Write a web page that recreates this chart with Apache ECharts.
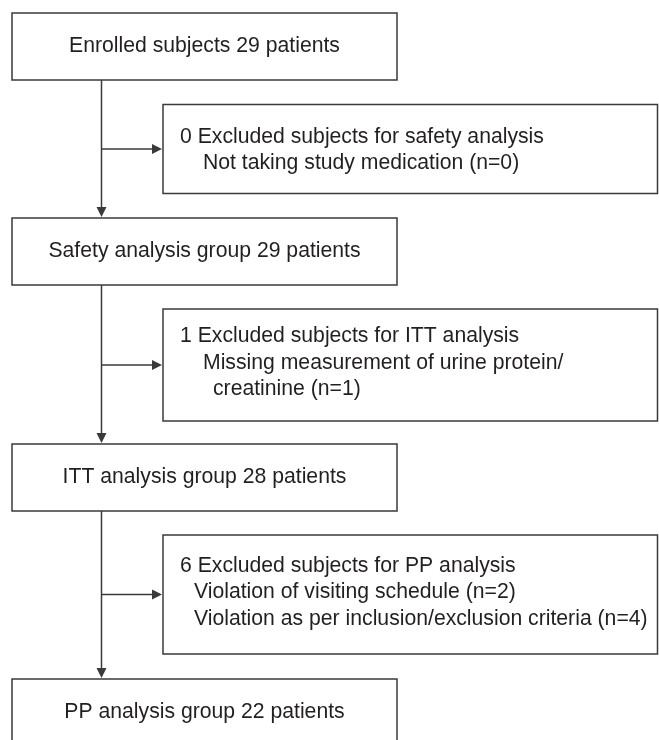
<!DOCTYPE html>
<html>
<head>
<meta charset="utf-8">
<script src="https://cdn.jsdelivr.net/npm/echarts@6/dist/echarts.min.js"></script>
<style>
  html, body { margin: 0; padding: 0; background: #fff; }
  #main { width: 659px; height: 740px; }
</style>
</head>
<body>
<div id="main"></div>
<script>
// flow steps (main column)
const mainLabels = [
  'Enrolled subjects 29 patients',
  'Safety analysis group 29 patients',
  'ITT analysis group 28 patients',
  'PP analysis group 22 patients'
]
// exclusion boxes, one per step transition
const exclHeads = [
  '0 Excluded subjects for safety analysis',
  '1 Excluded subjects for ITT analysis',
  '6 Excluded subjects for PP analysis'
]
const exclReasons = [
  ['Not taking study medication (n=0)'],
  ['Missing measurement of urine protein/', 'creatinine (n=1)'],
  ['Violation of visiting schedule (n=2)', 'Violation as per inclusion/exclusion criteria (n=4)']
]

// layout
const FONT = '21.2px "Liberation Sans", Arial, sans-serif'
const TXT = '#231f20'
const LINE = '#3a3a3a'
const mainX = 12
const mainW = 385
const mainH = 67
const mainTop = [13, 218, 444, 679]
const exclX = 163
const exclRight = 657.5
const exclTop = [104.5, 309, 535]
const exclBottom = [193.5, 421, 654]
const textShift = [1, -2, -2] // small nudge of the text block inside each box
const reasonIndent = [[23], [23, 33], [14, 14]]
const lineGap = 26.5
const spineX = 101.5
const head = 10

let els = []

function arrowDown (x, y) {
  return { type: 'polygon', shape: { points: [[x - head / 2, y - head], [x + head / 2, y - head], [x, y]] }, style: { fill: LINE } }
}
function arrowRight (x, y) {
  return { type: 'polygon', shape: { points: [[x - head, y - head / 2], [x - head, y + head / 2], [x, y]] }, style: { fill: LINE } }
}

mainLabels.forEach((label, i) => {
  let y = mainTop[i]
  els.push({ type: 'rect', shape: { x: mainX, y: y, width: mainW, height: mainH }, style: { fill: '#fff', stroke: LINE, lineWidth: 1.5 } })
  els.push({ type: 'text', style: { text: label, x: mainX + mainW / 2, y: y + mainH / 2, font: FONT, fill: TXT, textAlign: 'center', textVerticalAlign: 'middle' } })
  if (i < mainLabels.length - 1) {
    let y0 = y + mainH
    let y1 = mainTop[i + 1]
    els.push({ type: 'line', shape: { x1: spineX, y1: y0, x2: spineX, y2: y1 - head + 1 }, style: { stroke: LINE, lineWidth: 1.5 } })
    els.push(arrowDown(spineX, y1 - 1))
  }
})

exclHeads.forEach((h, i) => {
  let t = exclTop[i]
  let b = exclBottom[i]
  let c = (t + b) / 2
  els.push({ type: 'rect', shape: { x: exclX, y: t, width: exclRight - exclX, height: b - t }, style: { fill: '#fff', stroke: LINE, lineWidth: 1.5 } })
  let lines = [h].concat(exclReasons[i])
  let indents = [0].concat(reasonIndent[i])
  let start = c + textShift[i] - (lines.length - 1) * lineGap / 2
  lines.forEach((s, k) => {
    els.push({ type: 'text', style: { text: s, x: exclX + 17 + indents[k], y: start + k * lineGap, font: FONT, fill: TXT, textAlign: 'left', textVerticalAlign: 'middle' } })
  })
  els.push({ type: 'line', shape: { x1: spineX, y1: c, x2: exclX - head, y2: c }, style: { stroke: LINE, lineWidth: 1.5 } })
  els.push(arrowRight(exclX - 1, c))
})

let chart = echarts.init(document.getElementById('main'))
chart.setOption({
  backgroundColor: '#fff',
  animation: false,
  graphic: { elements: els }
})
</script>
</body>
</html>
